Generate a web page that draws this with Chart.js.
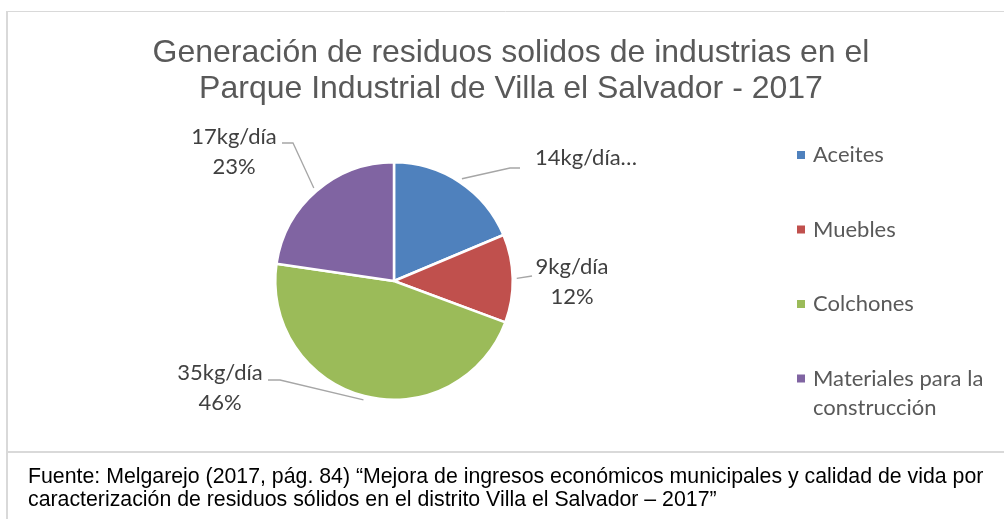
<!DOCTYPE html>
<html>
<head>
<meta charset="utf-8">
<script src="https://cdn.jsdelivr.net/npm/chart.js@4.4.1/dist/chart.umd.min.js"></script>
<style>
  html, body { margin: 0; padding: 0; background: #ffffff; }
  #wrap { width: 1004px; height: 519px; position: relative; }
</style>
</head>
<body>
<div id="wrap"><canvas id="c" width="1004" height="519"></canvas></div>
<script>
// ---- data ----
const categories = ["Aceites", "Muebles", "Colchones", "Materiales para la construcción"];
const values = [14, 9, 35, 17];                        // kg/día
const valueLabels = ["14kg/día…", "9kg/día", "35kg/día", "17kg/día"];
const percentLabels = ["", "12%", "46%", "23%"];
const titleLines = ["Generación de residuos solidos de industrias en el",
                    "Parque Industrial de Villa el Salvador - 2017"];
const footnoteLines = ["Fuente: Melgarejo (2017, pág. 84) “Mejora de ingresos económicos municipales y calidad de vida por",
                       "caracterización de residuos sólidos en el distrito Villa el Salvador – 2017”"];

// ---- styles ----
const sliceColors = ["#4F81BD", "#C0504D", "#9BBB59", "#8064A2"];
// label layout relative to the pie centre (px): text anchor x, first line centre y, alignment,
// leader elbow and leader end points
const labelLayout = [
  { tx: 141,  ty: -123, align: "left",   elbow: [116, -113], end: [126, -113] },
  { tx: 178,  ty: -14,  align: "center", elbow: [138, -5],   end: [138, -5] },
  { tx: -174, ty: 92,   align: "center", elbow: [-114, 99],  end: [-126, 99] },
  { tx: -160, ty: -144, align: "center", elbow: [-101, -138], end: [-112, -138] }
];

const overlay = {
  id: "overlay",
  beforeDraw(chart) {
    const ctx = chart.ctx;
    ctx.save();
    ctx.fillStyle = "#ffffff";
    ctx.fillRect(0, 0, chart.width, chart.height);
    ctx.strokeStyle = "#d9d9d9";
    ctx.lineWidth = 1;
    ctx.beginPath(); ctx.moveTo(7, 11.5); ctx.lineTo(1004, 11.5); ctx.stroke();
    ctx.lineWidth = 2;
    ctx.beginPath(); ctx.moveTo(7, 11); ctx.lineTo(7, 519); ctx.stroke();
    ctx.beginPath(); ctx.moveTo(7, 452); ctx.lineTo(1004, 452); ctx.stroke();
    ctx.restore();
  },
  afterDraw(chart) {
    const ctx = chart.ctx;
    const meta = chart.getDatasetMeta(0);
    ctx.save();
    // title
    ctx.fillStyle = "#595959";
    ctx.font = "32px 'Liberation Sans', Arial, sans-serif";
    ctx.textAlign = "center";
    ctx.textBaseline = "alphabetic";
    titleLines.forEach((t, i) => ctx.fillText(t, 511, 62 + i * 36));

    // data labels + leader lines
    meta.data.forEach((arc, i) => {
      const p = arc.getProps(["x", "y", "startAngle", "endAngle", "outerRadius"], true);
      const mid = (p.startAngle + p.endAngle) / 2;
      const r0 = p.outerRadius + 4;
      const sx = p.x + Math.cos(mid) * r0, sy = p.y + Math.sin(mid) * r0;
      const L = labelLayout[i];
      ctx.strokeStyle = "#a6a6a6";
      ctx.lineWidth = 1.3;
      ctx.beginPath();
      ctx.moveTo(sx, sy);
      ctx.lineTo(p.x + L.elbow[0], p.y + L.elbow[1]);
      ctx.lineTo(p.x + L.end[0], p.y + L.end[1]);
      ctx.stroke();
      ctx.fillStyle = "#404040";
      ctx.font = "22px Lato, 'Noto Sans', sans-serif";
      ctx.textAlign = L.align;
      ctx.textBaseline = "middle";
      const lines = [valueLabels[i], percentLabels[i]].filter(s => s);
      lines.forEach((s, k) => ctx.fillText(s, p.x + L.tx, p.y + L.ty + k * 30));
    });

    // legend
    ctx.font = "22px Lato, 'Noto Sans', sans-serif";
    ctx.textAlign = "left";
    ctx.textBaseline = "middle";
    const maxW = 185;
    categories.forEach((name, i) => {
      const y = 155 + i * 74.5;
      ctx.fillStyle = sliceColors[i];
      ctx.fillRect(797, y - 4, 8, 8);
      ctx.fillStyle = "#595959";
      const words = name.split(" ");
      const rows = []; let cur = "";
      words.forEach(w => {
        const test = cur ? cur + " " + w : w;
        if (ctx.measureText(test).width > maxW && cur) { rows.push(cur); cur = w; } else cur = test;
      });
      rows.push(cur);
      rows.forEach((row, k) => ctx.fillText(row, 813, y + k * 29));
    });

    // footnote
    ctx.fillStyle = "#000000";
    ctx.font = "21.3px 'Liberation Sans', Arial, sans-serif";
    ctx.textAlign = "left";
    ctx.textBaseline = "alphabetic";
    footnoteLines.forEach((t, i) => ctx.fillText(t, 28, 483 + i * 23));
    ctx.restore();
  }
};

new Chart(document.getElementById("c"), {
  type: "pie",
  data: {
    labels: categories,
    datasets: [{
      data: values,
      backgroundColor: sliceColors,
      borderColor: "#ffffff",
      borderWidth: 2.5,
      hoverOffset: 0
    }]
  },
  options: {
    responsive: false,
    animation: false,
    devicePixelRatio: 1,
    events: [],
    layout: { padding: { left: 274, right: 490, top: 161, bottom: 118 } },
    plugins: {
      legend: { display: false },
      title: { display: false },
      tooltip: { enabled: false }
    }
  },
  plugins: [overlay]
});
</script>
</body>
</html>
